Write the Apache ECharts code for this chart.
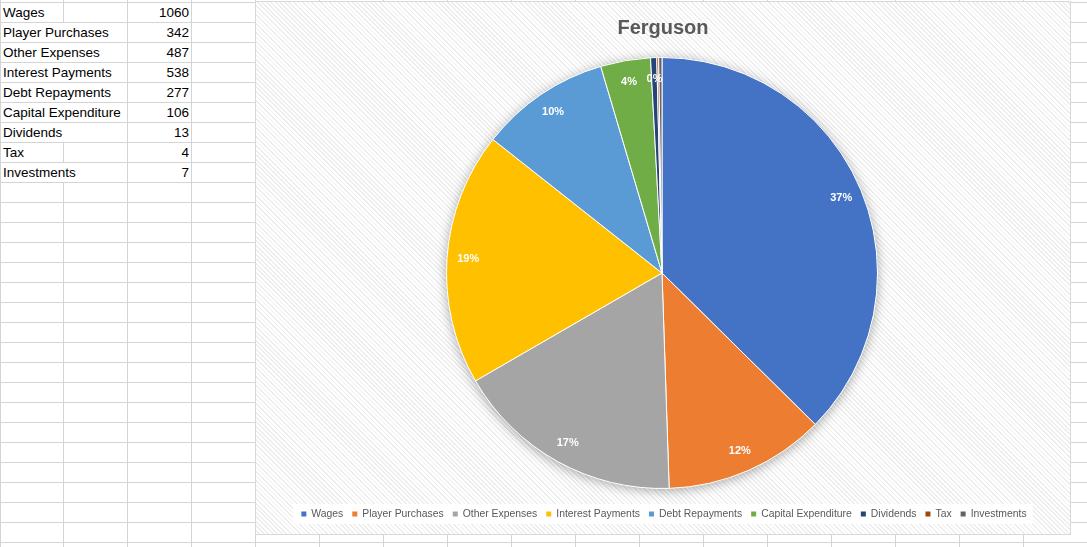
<!DOCTYPE html>
<html>
<head>
<meta charset="utf-8">
<script src="https://cdn.jsdelivr.net/npm/echarts@6/dist/echarts.min.js"></script>
<style>
  html, body { margin: 0; padding: 0; }
  body {
    width: 1087px; height: 547px; overflow: hidden; position: relative;
    background-color: #fff;
    background-image:
      linear-gradient(to right, #d4d4d4 1px, transparent 1px),
      linear-gradient(to bottom, #d4d4d4 1px, transparent 1px);
    background-size: 64px 20px, 64px 20px;
    background-position: 63px 0, 0 2px;
    font-family: "Liberation Sans", Arial, sans-serif;
  }
  #leftline { position: absolute; left: 0; top: 0; width: 1px; height: 547px; background: #d4d4d4; }
  .cell { position: absolute; height: 19px; line-height: 20px; font-size: 13.5px; color: #000; white-space: nowrap; background: #fff; box-sizing: border-box; }
  #box {
    position: absolute; left: 255px; top: 1px; width: 816px; height: 534px;
    box-sizing: border-box; border: 1px solid #d9d9d9;
    background: repeating-linear-gradient(45deg, #ffffff 0px, #ffffff 2px, #ededed 2px, #ededed 3.2px);
  }
  #chart { position: absolute; left: 0; top: 0; width: 814px; height: 532px; }
</style>
</head>
<body>
<div id="leftline"></div>
<div id="sheet"></div>
<div id="box"><div id="chart"></div></div>
<script>
const categories = ['Wages', 'Player Purchases', 'Other Expenses', 'Interest Payments', 'Debt Repayments', 'Capital Expenditure', 'Dividends', 'Tax', 'Investments'];
const values = [1060, 342, 487, 538, 277, 106, 13, 4, 7];
const colors = ['#4472C4', '#ED7D31', '#A5A5A5', '#FFC000', '#5B9BD5', '#70AD47', '#264478', '#9E480E', '#636363'];
const chartTitle = 'Ferguson';

// spreadsheet cells
(function () {
  const sheet = document.getElementById('sheet');
  const ctx = document.createElement('canvas').getContext('2d');
  ctx.font = '13.5px "Liberation Sans"';
  categories.forEach(function (name, i) {
    const top = 2 + i * 20 + 1;
    const w = ctx.measureText(name).width;
    const lab = document.createElement('div');
    lab.className = 'cell';
    lab.style.left = '1px';
    lab.style.top = top + 'px';
    lab.style.width = (w + 4 > 62 ? 126 : 62) + 'px';
    lab.style.paddingLeft = '2px';
    lab.textContent = name;
    sheet.appendChild(lab);
    const val = document.createElement('div');
    val.className = 'cell';
    val.style.left = '128px';
    val.style.top = top + 'px';
    val.style.width = '63px';
    val.style.textAlign = 'right';
    val.style.paddingRight = '2px';
    val.textContent = values[i];
    sheet.appendChild(val);
  });
})();

const chart = echarts.init(document.getElementById('chart'), null, { renderer: 'canvas' });
const pieData = categories.map(function (n, i) { return { name: n, value: values[i], itemStyle: { color: colors[i] } }; });
const FONT = '"Liberation Sans", Arial, sans-serif';
const center = [406, 271];
const R = 215.5;

chart.setOption({
  backgroundColor: 'transparent',
  animation: false,
  title: {
    text: chartTitle, left: 'center', top: 16, padding: 0,
    textStyle: { fontSize: 20, fontWeight: 'bold', color: '#595959', fontFamily: FONT }
  },
  legend: {
    data: categories, top: 502, left: 'center',
    backgroundColor: '#fff', padding: [5, 6],
    icon: 'rect', itemWidth: 7, itemHeight: 7, itemGap: 7,
    textStyle: { fontSize: 10.4, color: '#595959', fontFamily: FONT, padding: [0, 0, 0, -1] },
    selectedMode: false
  },
  series: [
    {
      type: 'pie', name: 'main', center: center, radius: [0, R],
      startAngle: 90, clockwise: true, silent: true, z: 2,
      itemStyle: { borderColor: '#ffffff', borderWidth: 1 },
      label: { show: false }, labelLine: { show: false },
      data: pieData
    },
    {
      type: 'pie', name: 'shadow', center: center, radius: [0, R],
      silent: true, z: 1, legendHoverLink: false,
      itemStyle: { color: '#ffffff', shadowBlur: 12, shadowColor: 'rgba(0,0,0,0.35)', shadowOffsetY: 2 },
      label: { show: false }, labelLine: { show: false },
      data: [{ name: '__bg', value: 1 }]
    },
    {
      type: 'pie', name: 'labels', center: center, radius: [167, R],
      startAngle: 90, clockwise: true, silent: true, z: 3,
      itemStyle: { color: 'rgba(0,0,0,0)', borderWidth: 0 },
      label: {
        show: true, position: 'inside', color: '#ffffff', fontSize: 11, fontWeight: 'bold', fontFamily: FONT,
        formatter: function (p) { return Math.round(p.percent) + '%'; }
      },
      labelLine: { show: false },
      data: categories.map(function (n, i) { return { name: n, value: values[i] }; })
    }
  ]
});
</script>
</body>
</html>
